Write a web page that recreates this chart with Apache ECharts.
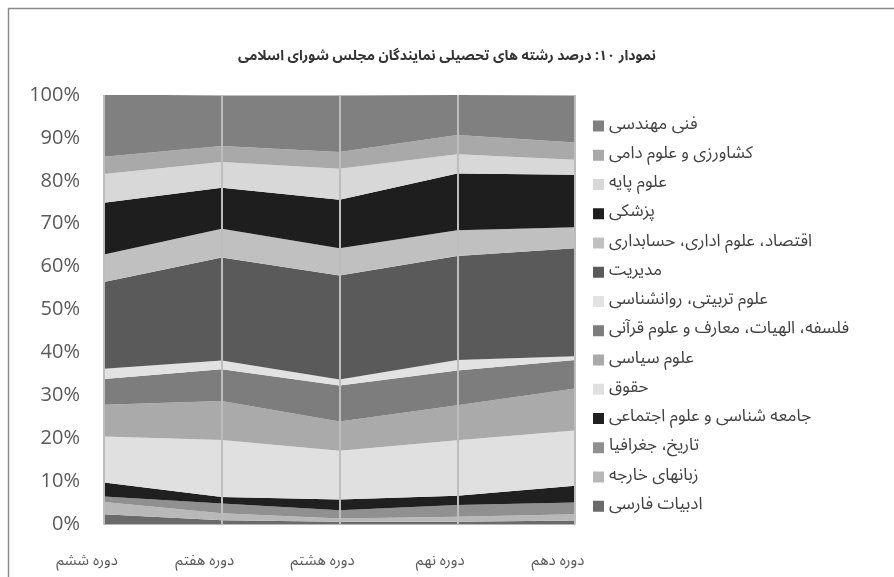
<!DOCTYPE html>
<html>
<head>
<meta charset="utf-8">
<script src="https://cdn.jsdelivr.net/npm/echarts@6/dist/echarts.min.js"></script>
<style>
html,body{margin:0;padding:0;background:#fff;}
#c{width:894px;height:577px;}
</style>
</head>
<body>
<div id="c"></div>
<script>
const categories = ['دوره ششم', 'دوره هفتم', 'دوره هشتم', 'دوره نهم', 'دوره دهم'];
const yTickLabels = ['0%', '10%', '20%', '30%', '40%', '50%', '60%', '70%', '80%', '90%', '100%'];

// bottom to top stacking order
const adabiyat   = [2.3, 0.9, 0.5, 0.5, 0.8];   // ادبیات فارسی
const zaban      = [2.8, 1.6, 0.8, 1.2, 1.5];   // زبانهای خارجه
const tarikh     = [1.3, 2.3, 1.9, 2.7, 2.7];   // تاریخ، جغرافیا
const jameeh     = [3.3, 1.5, 2.5, 2.2, 3.9];   // جامعه شناسی و علوم اجتماعی
const hoghogh    = [10.7, 13.3, 11.4, 12.9, 12.9]; // حقوق
const siasi      = [7.4, 9.1, 6.8, 8.2, 9.8];   // علوم سیاسی
const falsafe    = [6.0, 7.4, 8.4, 8.1, 6.6];   // فلسفه، الهیات، معارف و علوم قرآنی
const tarbiati   = [2.4, 2.0, 1.4, 2.4, 0.9];   // علوم تربیتی، روانشناسی
const modiriat   = [20.2, 24.0, 24.2, 24.3, 25.2]; // مدیریت
const eghtesad   = [6.4, 6.7, 6.4, 6.0, 4.9];   // اقتصاد، علوم اداری، حسابداری
const pezeshki   = [12.1, 9.6, 11.3, 13.2, 12.2]; // پزشکی
const payeh      = [6.7, 6.0, 7.2, 4.5, 3.5];   // علوم پایه
const keshavarzi = [4.0, 3.7, 3.9, 4.5, 4.0];   // کشاورزی و علوم دامی
const fanni      = [14.5, 11.8, 13.2, 9.3, 11.0]; // فنی مهندسی

const seriesNames = [
  'ادبیات فارسی', 'زبانهای خارجه', 'تاریخ، جغرافیا', 'جامعه شناسی و علوم اجتماعی',
  'حقوق', 'علوم سیاسی', 'فلسفه، الهیات، معارف و علوم قرآنی', 'علوم تربیتی، روانشناسی ',
  'مدیریت', 'اقتصاد، علوم اداری، حسابداری', 'پزشکی', 'علوم پایه',
  'کشاورزی و علوم دامی', 'فنی مهندسی'
];
const seriesData = [adabiyat, zaban, tarikh, jameeh, hoghogh, siasi, falsafe, tarbiati,
  modiriat, eghtesad, pezeshki, payeh, keshavarzi, fanni];
const seriesColors = ['#6a6a6a', '#b8b8b8', '#909090', '#202020', '#e0e0e0', '#aaaaaa', '#7d7d7d',
  '#e2e2e2', '#5a5a5a', '#c0c0c0', '#1e1e1e', '#d8d8d8', '#a9a9a9', '#808080'];

const faFont = "'Noto Sans Arabic', 'Noto Naskh Arabic', 'DejaVu Sans'";
const faTitleFont = "'Noto Sans Arabic', 'Noto Naskh Arabic', 'DejaVu Sans Condensed', 'DejaVu Sans'";

const series = seriesNames.map((name, i) => {
  const s = {
    name: name,
    type: 'line',
    stack: 'total',
    data: seriesData[i],
    showSymbol: false,
    symbol: 'none',
    lineStyle: { width: 0 },
    itemStyle: { color: seriesColors[i] },
    areaStyle: { color: seriesColors[i], opacity: 1 },
    emphasis: { disabled: true },
    animation: false
  };
  if (i === seriesNames.length - 1) {
    s.markLine = {
      silent: true,
      symbol: ['none', 'none'],
      label: { show: false },
      lineStyle: { color: '#bdbdbd', width: 2, type: 'solid' },
      data: categories.map(c => ({ xAxis: c }))
    };
  }
  return s;
});

const chart = echarts.init(document.getElementById('c'), null, { renderer: 'canvas' });
chart.setOption({
  backgroundColor: '#ffffff',
  animation: false,
  title: {
    text: 'نمودار ۱۰: درصد رشته های تحصیلی نمایندگان مجلس شورای اسلامی',
    left: 'center',
    top: 46,
    textStyle: { fontFamily: faTitleFont, fontSize: 14, fontWeight: 'bold', color: '#333333' }
  },
  graphic: [{
    type: 'rect',
    shape: { x: 8.5, y: 8.5, width: 900, height: 600 },
    style: { fill: 'none', stroke: '#8a8a8a', lineWidth: 1.5 },
    silent: true
  }],
  legend: {
    orient: 'vertical',
    left: 588,
    top: 111,
    icon: 'rect',
    itemWidth: 11,
    itemHeight: 11,
    itemGap: 9.25,
    data: seriesNames.slice().reverse(),
    textStyle: { fontFamily: faFont, fontSize: 17, color: '#404040', lineHeight: 20 },
    selectedMode: false
  },
  grid: { left: 104, right: 319, top: 95, bottom: 53, containLabel: false },
  xAxis: {
    type: 'category',
    boundaryGap: false,
    data: categories,
    axisLine: { show: true, lineStyle: { color: '#a0a0a0', width: 1.5 } },
    axisTick: { show: false },
    splitLine: { show: false },
    axisLabel: {
      interval: 0,
      margin: 31,
      padding: [0, 34, 0, 0],
      fontFamily: faFont,
      fontSize: 15,
      color: '#595959'
    }
  },
  yAxis: {
    type: 'value',
    min: 0,
    max: 100,
    interval: 10,
    axisLine: { show: false },
    axisTick: { show: false },
    splitLine: { show: false },
    axisLabel: {
      margin: 24,
      fontFamily: 'Open Sans',
      fontSize: 20,
      color: '#595959',
      formatter: function (v) { return yTickLabels[Math.round(v / 10)]; }
    }
  },
  series: series
});
</script>
</body>
</html>
